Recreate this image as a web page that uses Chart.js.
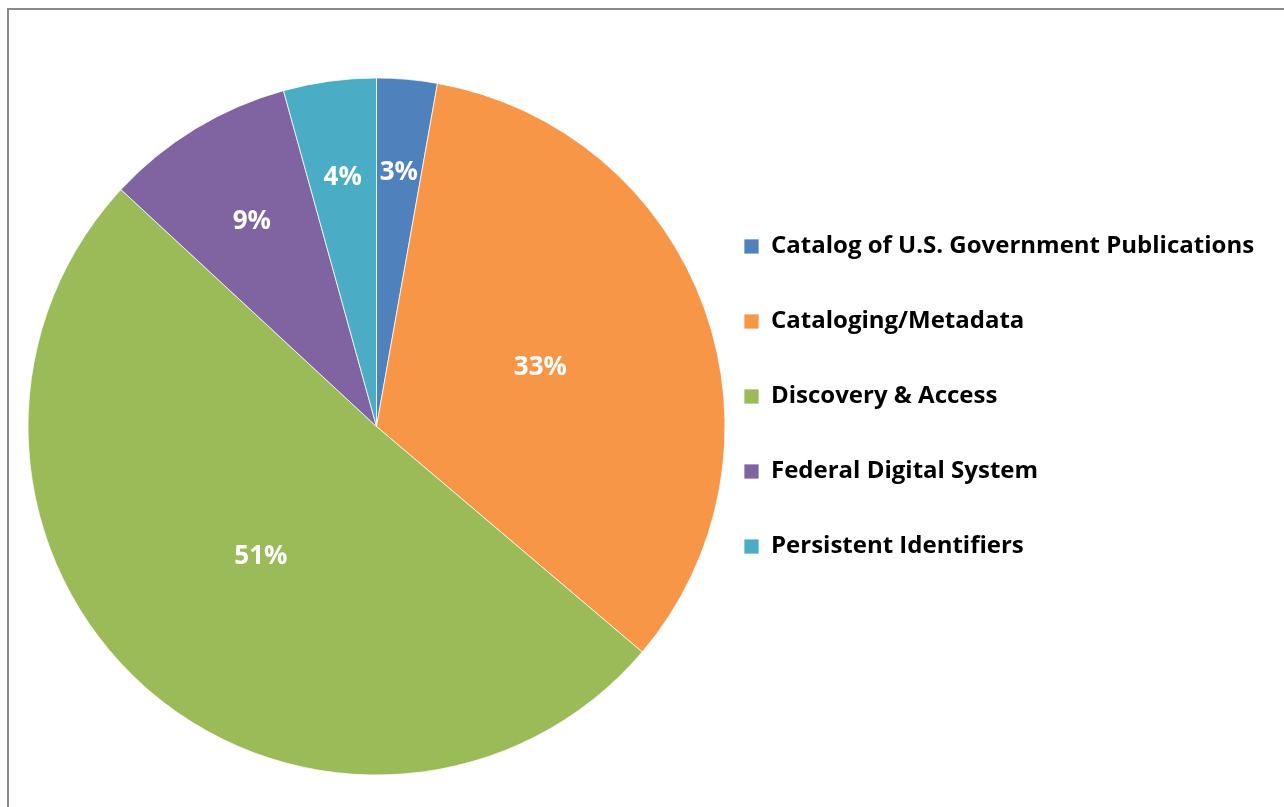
<!DOCTYPE html>
<html>
<head>
<meta charset="utf-8">
<script src="https://cdn.jsdelivr.net/npm/chart.js@4/dist/chart.umd.min.js"></script>
<style>
  html, body { margin: 0; padding: 0; background: #fff; }
  body { width: 1284px; height: 807px; position: relative; overflow: hidden; }
  .frame { position: absolute; left: 7px; top: 8px; right: -10px; bottom: -10px; border-left: 2px solid #8a8a8a; border-top: 2px solid #8a8a8a; }
  #chartTopics { position: absolute; left: 0; top: 0; }
</style>
</head>
<body>
<div class="frame"></div>
<canvas id="chartTopics" width="1284" height="807"></canvas>
<script>
const categories = [
  'Catalog of U.S. Government Publications',
  'Cataloging/Metadata',
  'Discovery & Access',
  'Federal Digital System',
  'Persistent Identifiers',
]
const shares = [2.8, 33.4, 50.7, 8.8, 4.3]
const colors = ['#4F81BD', '#F79646', '#9BBB59', '#8064A2', '#4BACC6']

const FONT = "'Open Sans', 'Noto Sans', sans-serif"
const legendSize = 24
const rowGap = 75
const legendPad = rowGap - legendSize
const boxSize = 15
const centerX = 376.5
const pieRadius = 348.5
const legendLeft = 744 - legendPad
// empty legend title used as a spacer so the first row lands at y~245
const spacerPad = (245 - legendSize / 2 + 1.5 - 78 - legendPad - 14.4) / 2

// legend width the way Chart.js fits it, so the pie centre stays put
const measure = document.createElement('canvas').getContext('2d')
measure.font = `bold ${legendSize}px ${FONT}`
const longest = Math.max(...categories.map(c => measure.measureText(c).width))
const legendWidth = legendPad + boxSize + legendSize / 2 + longest + 10

// white percent labels, pushed outward on thin slices
const percentLabels = {
  id: 'percentLabels',
  afterDatasetsDraw(chart) {
    const ctx = chart.ctx
    const meta = chart.getDatasetMeta(0)
    const total = shares.reduce((a, b) => a + b, 0)
    ctx.save()
    ctx.fillStyle = '#fff'
    ctx.font = 'bold 26px ' + FONT
    ctx.textAlign = 'center'
    ctx.textBaseline = 'middle'
    meta.data.forEach((arc, i) => {
      const { x, y, startAngle, endAngle, outerRadius } = arc.getProps(['x', 'y', 'startAngle', 'endAngle', 'outerRadius'], true)
      const p = shares[i] / total
      const frac = p < 0.2 ? 0.75 - p * 0.7 : 0.5
      const mid = (startAngle + endAngle) / 2
      ctx.fillText(Math.round(p * 100) + '%', x + Math.cos(mid) * outerRadius * frac, y + Math.sin(mid) * outerRadius * frac)
    })
    ctx.restore()
  },
}

new Chart(document.getElementById('chartTopics').getContext('2d'), {
  type: 'pie',
  data: {
    labels: categories,
    datasets: [
      {
        data: shares,
        backgroundColor: colors,
        borderColor: '#fff',
        borderWidth: 0.75,
        radius: pieRadius,
      },
    ],
  },
  options: {
    responsive: false,
    animation: false,
    layout: {
      padding: { top: 78, bottom: 32, left: 2 * centerX - legendLeft, right: Math.max(0, 1284 - legendLeft - legendWidth) },
    },
    plugins: {
      tooltip: { enabled: false },
      legend: {
        position: 'right',
        align: 'start',
        title: { display: true, text: '', font: { size: 12 }, padding: spacerPad },
        labels: {
          boxWidth: boxSize,
          boxHeight: boxSize,
          padding: legendPad,
          color: '#000',
          font: { family: FONT, size: legendSize, weight: 'bold' },
        },
      },
    },
  },
  plugins: [percentLabels],
})
</script>
</body>
</html>
